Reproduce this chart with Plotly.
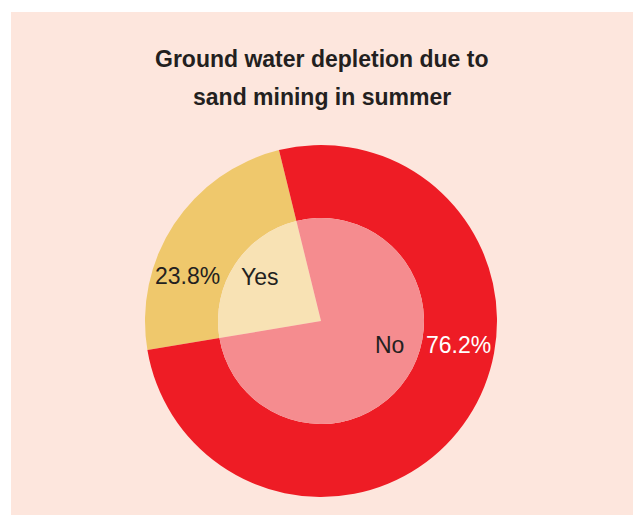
import plotly.graph_objects as go

# Survey answers: does sand mining deplete ground water in summer?
answers = ["Yes", "No"]
shares = [23.8, 76.2]

outer_colors = ["#EFC86C", "#EE1C25"]
inner_colors = ["#F8E2B4", "#F58C8F"]
bg_peach = "#FDE6DD"
ink = "#231F20"

W, H = 633, 515
# counterclockwise pies lay the first slice so that it ends at `rotation`
START_ANGLE = -99.5


def px(x, y):
    """Pixel position (from top-left) to paper coordinates."""
    return x / W, 1 - y / H


fig = go.Figure()

# Outer ring: percentages
ox0, oy1 = px(145, 145)
ox1, oy0 = px(497, 497)
fig.add_trace(go.Pie(
    labels=answers, values=shares, sort=False,
    direction="counterclockwise", rotation=START_ANGLE,
    hole=103 / 176,
    marker=dict(colors=outer_colors, line=dict(width=0)),
    textinfo="none", hoverinfo="label+percent",
    domain=dict(x=[ox0, ox1], y=[oy0, oy1]),
    showlegend=False,
))

# Inner pie: answer names
ix0, iy1 = px(218, 218)
ix1, iy0 = px(424, 424)
fig.add_trace(go.Pie(
    labels=answers, values=shares, sort=False,
    direction="counterclockwise", rotation=START_ANGLE,
    marker=dict(colors=inner_colors, line=dict(width=0)),
    textinfo="none", hoverinfo="label+percent",
    domain=dict(x=[ix0, ix1], y=[iy0, iy1]),
    showlegend=False,
))

font_face = "Liberation Sans, Arial, Helvetica, sans-serif"
annotations = []

# Title, two lines
for line, ypix in [("Ground water depletion due to", 59), ("sand mining in summer", 97)]:
    x, y = px(322, ypix)
    annotations.append(dict(
        text=f"<b>{line}</b>", x=x, y=y, xref="paper", yref="paper",
        xanchor="center", yanchor="middle", showarrow=False,
        font=dict(family=font_face, size=23, color=ink),
    ))

# Slice labels
label_spots = {
    "Yes": dict(pct=(187, 276), name=(260, 277), pct_color=ink),
    "No": dict(pct=(458, 345), name=(389, 345), pct_color="#FFFFFF"),
}
for ans, val in zip(answers, shares):
    spot = label_spots[ans]
    x, y = px(*spot["pct"])
    annotations.append(dict(
        text=f"{val:.1f}%", x=x, y=y, xref="paper", yref="paper",
        xanchor="center", yanchor="middle", showarrow=False,
        font=dict(family=font_face, size=23, color=spot["pct_color"]),
    ))
    x, y = px(*spot["name"])
    annotations.append(dict(
        text=ans, x=x, y=y, xref="paper", yref="paper",
        xanchor="center", yanchor="middle", showarrow=False,
        font=dict(family=font_face, size=23, color=ink),
    ))

bx0, by1 = px(11, 12)
fig.update_layout(
    width=W, height=H,
    margin=dict(l=0, r=0, t=0, b=0),
    paper_bgcolor="#FFFFFF",
    annotations=annotations,
    shapes=[dict(
        type="rect", xref="paper", yref="paper",
        x0=bx0, x1=1, y0=0, y1=by1,
        fillcolor=bg_peach, line=dict(width=0), layer="below",
    )],
)

fig.write_html("out.html")
